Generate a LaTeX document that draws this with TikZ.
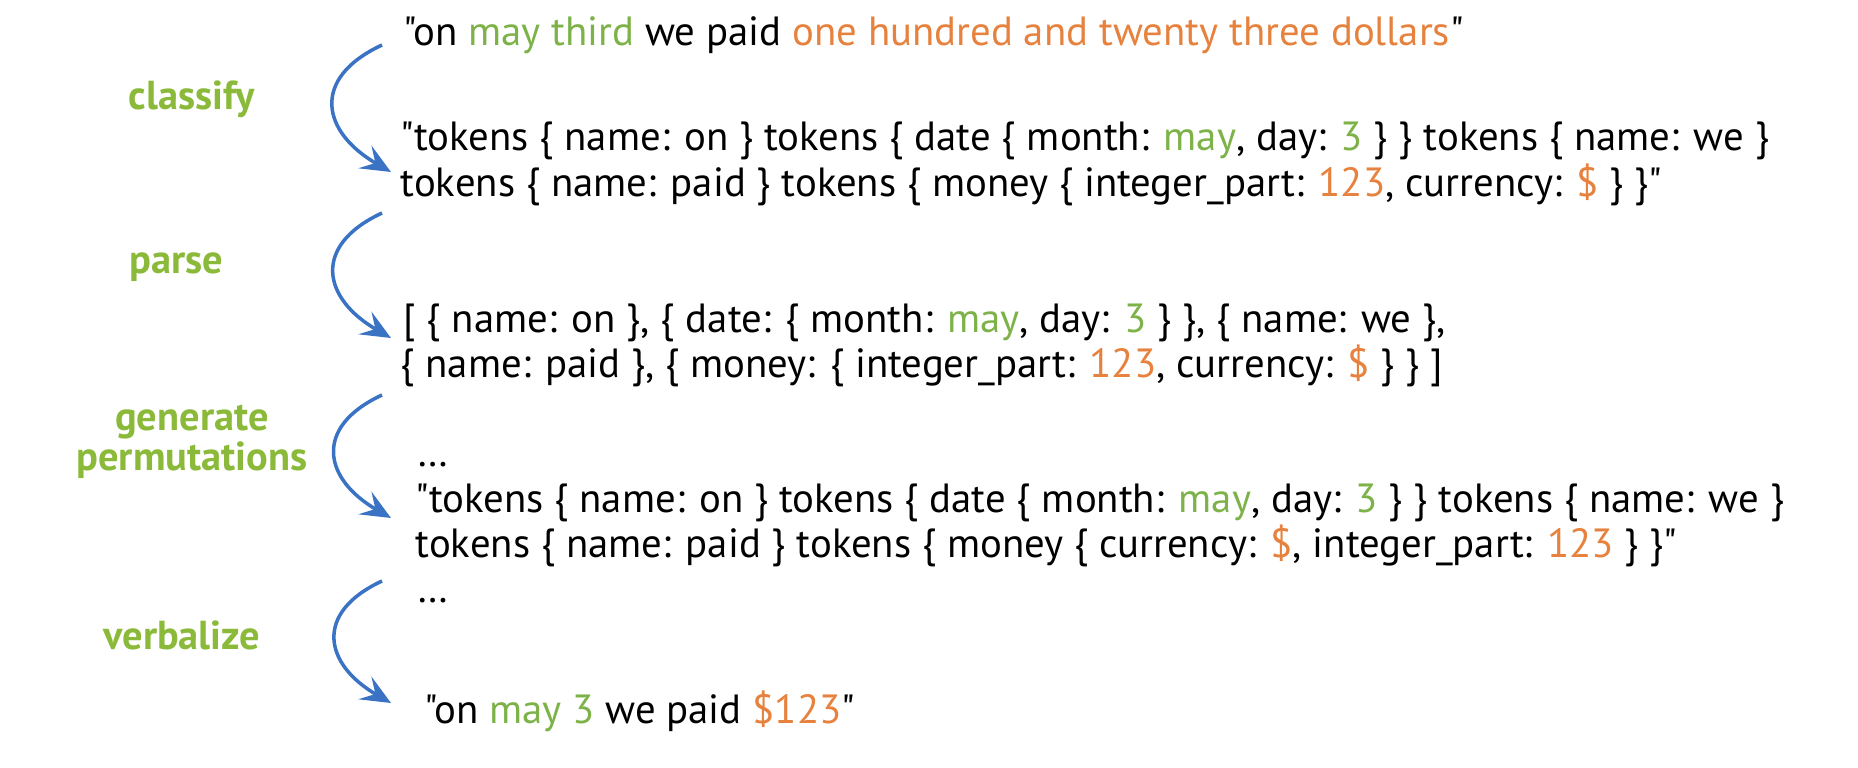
\documentclass[tikz,border=0pt]{standalone}
\usepackage{fontspec}
\newfontfamily\plainsans{PT Sans}
\usetikzlibrary{arrows.meta}
\definecolor{labgreen}{RGB}{139,186,58}
\definecolor{valgreen}{RGB}{125,178,72}
\definecolor{valorange}{RGB}{230,130,62}
\definecolor{arrblue}{RGB}{58,114,196}
\newcommand{\grn}[1]{\textcolor{valgreen}{#1}}
\newcommand{\orn}[1]{\textcolor{valorange}{#1}}
\tikzset{
	txt/.style = {anchor = base west, inner sep = 0pt, font = \plainsans\fontsize{11.6}{13}\selectfont},
	steplab/.style = {anchor = base, inner sep = 0pt, align = center, text = labgreen, font = \plainsans\fontsize{11.5}{11.5}\selectfont\bfseries},
	flow/.style = {arrblue, line width = 1pt, -{Stealth[length = 3mm, width = 2.6mm, inset = 1.2mm]}, out = 205, in = 150, looseness = 1.6}
}
\begin{document}
\begin{tikzpicture}
	\useasboundingbox (0,0) rectangle (18.58,-7.68);
	% input sentence
	\node [txt] (inp) at (4.03,-0.45) {"on \grn{may third} we paid \orn{one hundred and twenty three dollars}"};
	% classified tokens
	\node [txt] (cls1) at (4.00,-1.50) {"tokens \{ name: on \} tokens \{ date \{ month: \grn{may}, day: \grn{3} \} \} tokens \{ name: we \}};
	\node [txt] (cls2) at (4.00,-1.96) {tokens \{ name: paid \} tokens \{ money \{ integer\_part: \orn{123}, currency: \orn{\$} \} \}"};
	% parsed list
	\node [txt] (prs1) at (4.03,-3.32) {[ \{ name: on \}, \{ date: \{ month: \grn{may}, day: \grn{3} \} \}, \{ name: we \},};
	\node [txt] (prs2) at (4.00,-3.77) {\{ name: paid \}, \{ money: \{ integer\_part: \orn{123}, currency: \orn{\$} \} \} ]};
	% permutations
	\node [txt] (dots1) at (4.17,-4.66) {…};
	\node [txt] (perm1) at (4.15,-5.12) {"tokens \{ name: on \} tokens \{ date \{ month: \grn{may}, day: \grn{3} \} \} tokens \{ name: we \}};
	\node [txt] (perm2) at (4.15,-5.57) {tokens \{ name: paid \} tokens \{ money \{ currency: \orn{\$}, integer\_part: \orn{123} \} \}"};
	\node [txt] (dots2) at (4.17,-6.02) {…};
	% output
	\node [txt] (outp) at (4.24,-7.23) {"on \grn{may 3} we paid \orn{\$123}"};
	% step labels
	\node [steplab] (lcls) at (1.92,-1.09) {classify};
	\node [steplab] (lprs) at (1.76,-2.73) {parse};
	\node [steplab, anchor = center] (lgen) at (1.92,-4.42) {generate\\permutations};
	\node [steplab] (lvrb) at (1.82,-6.49) {verbalize};
	% arrows
	\coordinate (a1s) at (3.82,-0.45); \coordinate (a1e) at (3.91,-1.72);
	\coordinate (a2s) at (3.82,-2.13); \coordinate (a2e) at (3.91,-3.38);
	\coordinate (a3s) at (3.82,-3.95); \coordinate (a3e) at (3.91,-5.18);
	\coordinate (a4s) at (3.82,-5.81); \coordinate (a4e) at (3.91,-7.03);
	\draw [flow] (a1s) to (a1e);
	\draw [flow] (a2s) to (a2e);
	\draw [flow] (a3s) to (a3e);
	\draw [flow] (a4s) to (a4e);
\end{tikzpicture}
\end{document}
